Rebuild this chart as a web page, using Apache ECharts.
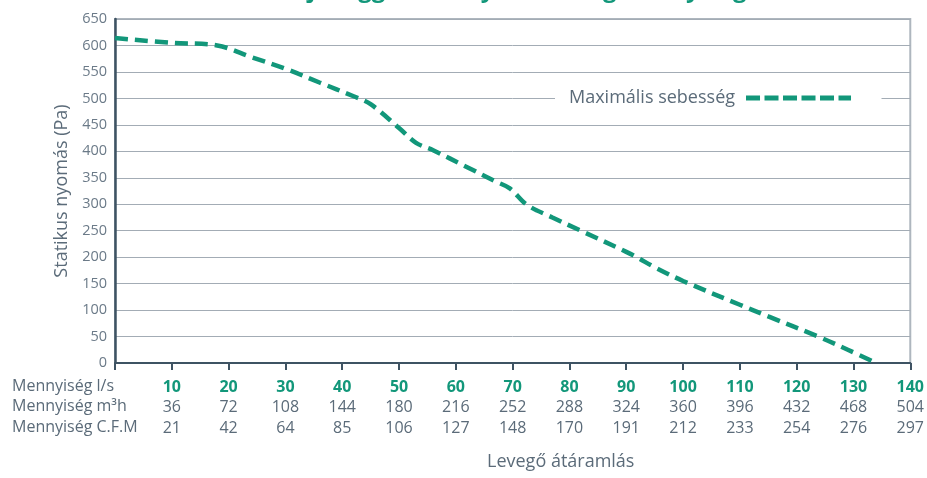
<!DOCTYPE html>
<html>
<head>
<meta charset="utf-8">
<script src="https://cdn.jsdelivr.net/npm/echarts@6/dist/echarts.min.js"></script>
<style>
  html, body { margin: 0; padding: 0; background: #fff; }
  #chart { width: 927px; height: 478px; }
</style>
</head>
<body>
<div id="chart"></div>
<script>
// air flow (l/s) vs static pressure (Pa)
var flowLs = [0, 10, 18, 24, 30, 36, 42, 45, 50, 53, 56, 62, 67, 69.5, 72.5, 77, 82, 90, 92, 95, 100, 110, 115, 124, 129, 134];
var pressure = [614, 605, 600, 578, 556, 530, 504, 489, 444, 416, 402, 370, 343, 330, 299, 275, 250, 210, 199, 181, 155, 110, 88, 49, 25, 0];

// tick rows under the x axis
var tickLs = [10, 20, 30, 40, 50, 60, 70, 80, 90, 100, 110, 120, 130, 140];
var tickM3h = [36, 72, 108, 144, 180, 216, 252, 288, 324, 360, 396, 432, 468, 504];
var tickCfm = [21, 42, 64, 85, 106, 127, 148, 170, 191, 212, 233, 254, 276, 297];
var rowNames = ['Mennyiség l/s', 'Mennyiség m³h', 'Mennyiség C.F.M'];

var green = '#12977a';
var textGrey = '#5b6b79';
var axisDark = '#3e5363';
var font = 'Open Sans';

var chart = echarts.init(document.getElementById('chart'));

var points = flowLs.map(function (x, i) { return [x, pressure[i]]; });

chart.setOption({
    animation: false,
    textStyle: { fontFamily: font },
    title: {
        text: 'Ventilátor jelleggörbe – nyomás / légmennyiség',
        left: 'center',
        top: -27,
        textStyle: { color: green, fontSize: 24, fontWeight: 'bold', fontFamily: font }
    },
    legend: {
        data: ['Maximális sebesség'],
        left: 555,
        top: 86,
        padding: [3, 28, 3, 14],
        backgroundColor: '#fff',
        align: 'right',
        itemWidth: 105,
        itemHeight: 14,
        itemGap: 10,
        itemStyle: { opacity: 0 },
        lineStyle: { width: 5, type: [14, 4.5] },
        textStyle: { color: textGrey, fontSize: 18, fontFamily: font, padding: [0, 6, 0, 0] }
    },
    grid: {
        left: 115,
        right: 15,
        top: 19,
        bottom: 115,
        show: true,
        borderColor: '#aeb6be',
        borderWidth: 2
    },
    xAxis: {
        type: 'value',
        min: 0,
        max: 140,
        interval: 10,
        splitLine: { show: false },
        axisLine: { lineStyle: { color: axisDark, width: 2 } },
        axisTick: { length: 7, lineStyle: { color: axisDark, width: 2 } },
        axisLabel: {
            margin: 14,
            formatter: function (v) {
                var i = tickLs.indexOf(v);
                if (i < 0) return '';
                return '{a|' + tickLs[i] + '}\n{b|' + tickM3h[i] + '}\n{b|' + tickCfm[i] + '}';
            },
            rich: {
                a: { color: green, fontWeight: 'bold', fontSize: 16, lineHeight: 20.5, fontFamily: font },
                b: { color: textGrey, fontSize: 16, lineHeight: 20.5, fontFamily: font }
            }
        }
    },
    yAxis: {
        type: 'value',
        min: 0,
        max: 650,
        interval: 50,
        name: 'Statikus nyomás (Pa)',
        nameLocation: 'middle',
        nameGap: 44,
        nameTextStyle: { color: textGrey, fontSize: 18, fontFamily: font },
        axisLine: { show: true, lineStyle: { color: axisDark, width: 2.5 } },
        axisTick: { show: false },
        axisLabel: { color: '#6b7a88', fontSize: 14.5, margin: 8 },
        splitLine: { lineStyle: { color: '#a3acb5', width: 1 } }
    },
    graphic: rowNames.map(function (name, i) {
        return {
            type: 'text',
            left: 12,
            top: 378 + i * 20.5,
            style: { text: name, fill: textGrey, fontSize: 16, fontFamily: font }
        };
    }).concat([{
        type: 'text',
        left: 487,
        top: 453,
        style: { text: 'Levegő átáramlás', fill: textGrey, fontSize: 18, fontFamily: font }
    }]),
    series: [{
        name: 'Maximális sebesség',
        type: 'line',
        data: points,
        smooth: 0.35,
        symbol: 'none',
        lineStyle: { color: green, width: 4.5, type: [13, 7] },
        itemStyle: { color: green }
    }]
});
</script>
</body>
</html>
